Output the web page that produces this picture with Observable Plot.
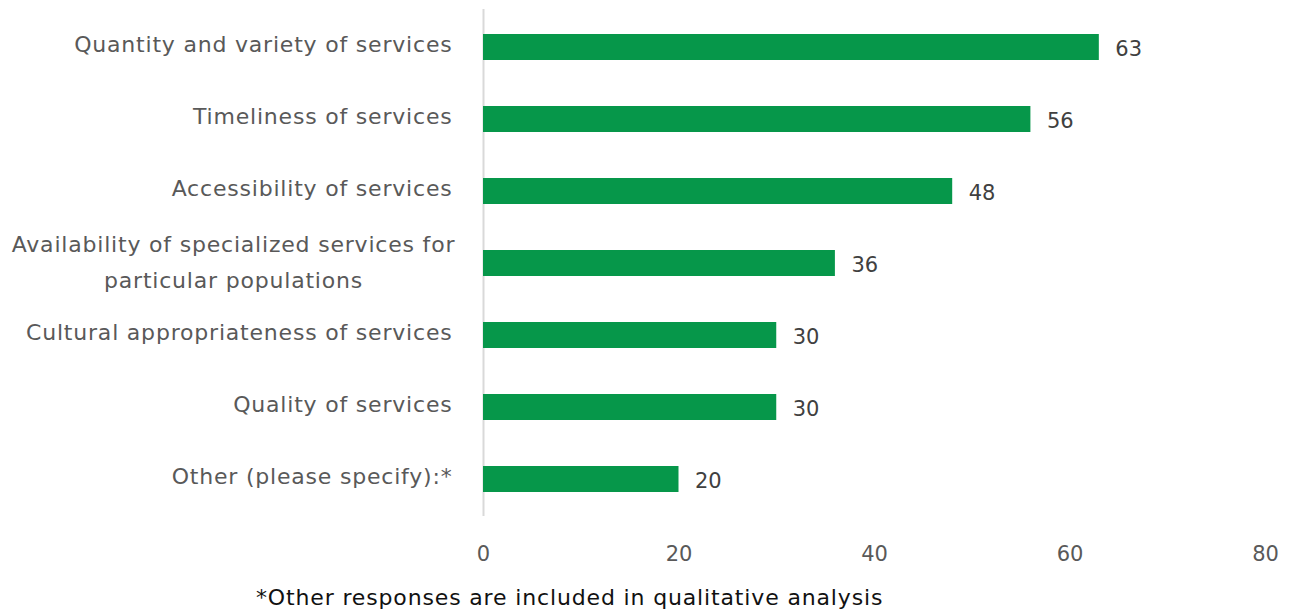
<!DOCTYPE html>
<html>
<head>
<meta charset="utf-8">
<script src="https://cdn.jsdelivr.net/npm/d3@7"></script>
<script src="https://cdn.jsdelivr.net/npm/@observablehq/plot@0.6"></script>
<style>
  body { margin: 0; background: #fff; }
  #chart { width: 1294px; }
  .caption { font-family: "DejaVu Sans", sans-serif; font-size: 22px; letter-spacing: 0.85px; color: #111; margin-top: 3px; padding-left: 256px; }
</style>
</head>
<body>
<div id="chart"></div>
<script>
const categories = [
  "Quantity and variety of services",
  "Timeliness of services",
  "Accessibility of services",
  "Availability of specialized services for\nparticular populations",
  "Cultural appropriateness of services",
  "Quality of services",
  "Other (please specify):*"
];
const values = [63, 56, 48, 36, 30, 30, 20];
const xTicks = [0, 20, 40, 60, 80];
const caption = "*Other responses are included in qualitative analysis";

const data = categories.map((c, i) => ({category: c, value: values[i]}));
const wrapped = data.filter(d => d.category.includes("\n"));
const single = data.filter(d => !d.category.includes("\n"));

const labelFont = "'DejaVu Sans', sans-serif";
const numFont = "'DejaVu Sans', sans-serif";

const plot = Plot.plot({
  width: 1294,
  height: 582,
  marginLeft: 483,
  marginRight: 29,
  marginTop: 9,
  marginBottom: 66,
  style: { fontFamily: numFont, fontSize: "21px", color: "#595959", background: "#fff" },
  x: { domain: [0, 80], ticks: xTicks, tickSize: 0, tickPadding: 30, label: null, line: false },
  y: { domain: categories, paddingInner: 0.64, paddingOuter: 0.32, axis: null },
  marks: [
    Plot.ruleX([0], { stroke: "#d9d9d9", strokeWidth: 2 }),
    Plot.barX(data, { x: "value", y: "category", fill: "#06974A" }),
    Plot.text(data, { x: "value", y: "category", text: d => String(d.value), textAnchor: "start", dx: 16, dy: 2, fill: "#404040", fontSize: 21, fontFamily: numFont }),
    Plot.text(single, { x: 0, y: "category", text: "category", textAnchor: "end", dx: -31, dy: -3, fill: "#595959", fontSize: 22, fontFamily: labelFont }),
    Plot.text(wrapped, { x: 0, y: "category", text: "category", textAnchor: "middle", dx: -250, dy: -5, lineHeight: 1.62, fill: "#595959", fontSize: 22, fontFamily: labelFont })
  ]
});
// widen the category label lettering (2nd and 3rd text marks)
const textGroups = plot.querySelectorAll('g[aria-label="text"]');
[1, 2].forEach(i => { if (textGroups[i]) textGroups[i].setAttribute("letter-spacing", "0.8"); });
document.getElementById("chart").appendChild(plot);
const cap = document.createElement("div");
cap.className = "caption";
cap.textContent = caption;
document.getElementById("chart").appendChild(cap);
</script>
</body>
</html>
